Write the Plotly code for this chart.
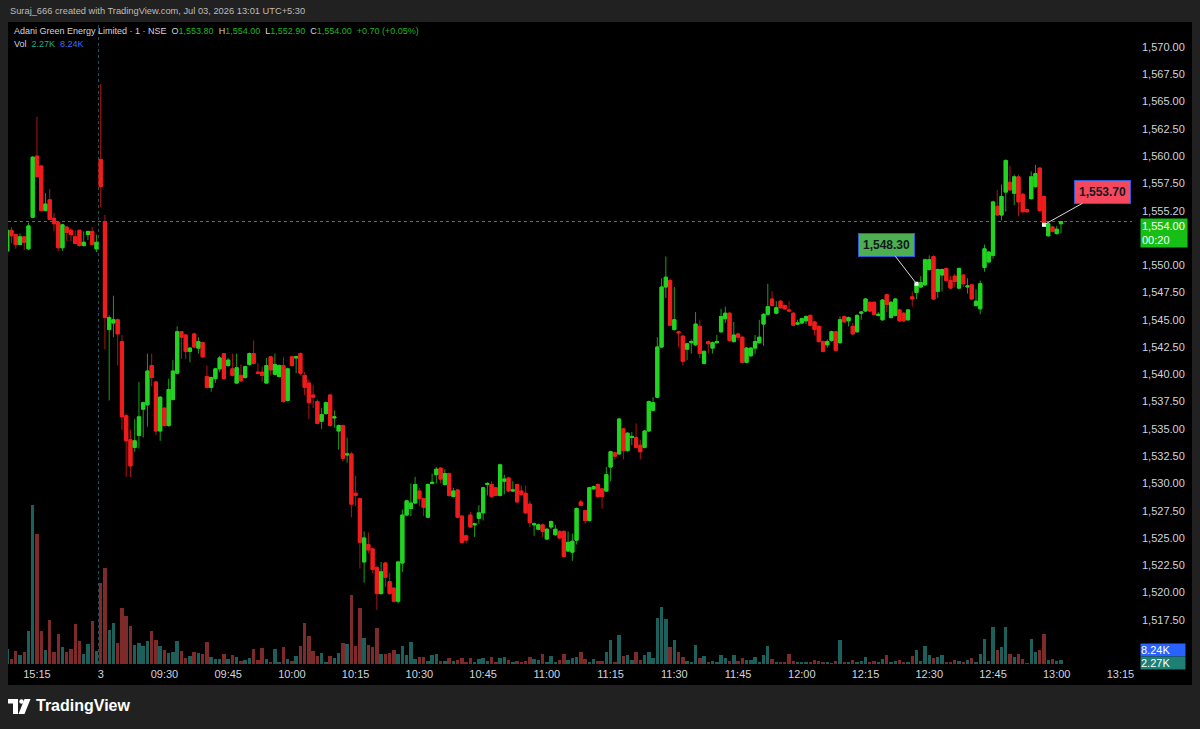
import numpy as np
import plotly.graph_objects as go

# ---------------- data ----------------
prev_times = [f"15:{m:02d}" for m in range(8, 30)]
today_times = [f"{t // 60:02d}:{t % 60:02d}" for t in range(9 * 60 + 15, 13 * 60 + 2)]
times = prev_times + today_times

opens = [
    1551.3, 1553.2, 1552.8, 1551.9, 1552.6, 1551.5, 1554.4, 1560.0, 1559.1, 1555.0,
    1556.0, 1554.3, 1553.9, 1551.6, 1553.5, 1553.2, 1552.6, 1553.2, 1551.8, 1552.8,
    1553.1, 1551.5,
    1559.7, 1554.0, 1544.1, 1544.7, 1545.0, 1543.0, 1536.2, 1534.0, 1533.3, 1534.4,
    1536.8, 1537.2, 1540.8, 1539.3, 1534.8, 1536.9, 1535.3, 1537.7, 1540.1, 1543.9,
    1543.6, 1542.1, 1543.7, 1542.4, 1542.9, 1539.8, 1538.8, 1539.6, 1540.5, 1541.9,
    1540.8, 1540.5, 1539.2, 1539.9, 1539.7, 1540.9, 1541.9, 1540.2, 1540.2, 1539.2,
    1541.6, 1540.0, 1539.8, 1540.8, 1537.6, 1541.6, 1541.5, 1541.9, 1539.9, 1539.2,
    1538.1, 1537.5, 1535.7, 1536.4, 1538.1, 1536.0, 1534.8, 1535.3, 1532.6, 1532.7,
    1529.1, 1528.6, 1522.8, 1524.4, 1524.0, 1522.3, 1519.9, 1522.7, 1521.0, 1520.4,
    1519.2, 1522.7, 1527.1, 1527.7, 1528.2, 1529.3, 1528.6, 1526.9, 1530.0, 1530.8,
    1531.4, 1529.9, 1530.9, 1528.8, 1529.4, 1527.0, 1525.2, 1527.1, 1526.2, 1526.8,
    1527.3, 1529.9, 1529.9, 1529.6, 1528.9, 1530.2, 1530.5, 1529.3, 1529.9, 1529.3,
    1529.1, 1528.1, 1526.2, 1525.8, 1526.2, 1524.9, 1526.0, 1525.3, 1525.6, 1525.6,
    1523.8, 1523.7, 1524.8, 1528.3, 1527.5, 1526.6, 1529.5, 1529.9, 1529.5, 1529.3,
    1531.5, 1532.8, 1532.7, 1535.0, 1533.0, 1534.2, 1534.2, 1533.5, 1533.3, 1534.8,
    1536.7, 1537.9, 1542.5, 1548.0, 1548.6, 1544.1, 1543.9, 1543.5, 1542.3, 1542.9,
    1542.7, 1544.4, 1541.0, 1543.0, 1542.4, 1542.9, 1543.9, 1545.1, 1545.6, 1543.0,
    1543.7, 1543.4, 1541.1, 1541.7, 1542.4, 1542.9, 1544.6, 1545.5, 1546.9, 1545.6,
    1546.7, 1546.3, 1545.9, 1545.6, 1544.6, 1544.7, 1544.9, 1545.4, 1544.8, 1544.4,
    1543.0, 1542.7, 1543.1, 1543.9, 1542.9, 1545.3, 1544.9, 1544.4, 1543.9, 1545.6,
    1545.8, 1546.6, 1546.6, 1545.4, 1545.0, 1547.3, 1545.2, 1545.4, 1545.9, 1545.6,
    1545.0, 1547.1, 1547.5, 1548.0, 1548.2, 1549.6, 1550.8, 1547.6, 1549.1, 1549.7,
    1548.6, 1549.0, 1547.9, 1549.1, 1548.0, 1548.2, 1546.3, 1546.0, 1549.8, 1550.3,
    1550.9, 1555.4, 1554.6, 1556.7, 1557.6, 1556.6, 1558.1, 1556.5, 1555.1, 1556.1,
    1557.2, 1558.9, 1556.3, 1552.7, 1553.5, 1552.9, 1553.8,
]
highs = [
    1553.4, 1553.5, 1552.9, 1552.9, 1552.7, 1553.9, 1560.0, 1563.6, 1559.1, 1556.6,
    1557.0, 1554.8, 1553.9, 1553.8, 1553.5, 1553.4, 1553.2, 1553.2, 1553.1, 1553.1,
    1553.5, 1552.8,
    1566.6, 1554.6, 1545.4, 1547.2, 1545.1, 1543.6, 1536.4, 1534.9, 1535.9, 1539.3,
    1537.5, 1541.9, 1541.9, 1539.4, 1538.0, 1537.0, 1539.6, 1541.3, 1544.4, 1543.9,
    1543.7, 1542.5, 1543.8, 1543.4, 1543.0, 1540.8, 1539.8, 1540.6, 1541.7, 1541.9,
    1541.5, 1541.9, 1541.9, 1540.9, 1540.8, 1542.0, 1543.1, 1541.0, 1540.7, 1541.5,
    1541.7, 1541.9, 1540.9, 1541.6, 1540.6, 1541.7, 1541.7, 1542.0, 1540.2, 1539.5,
    1539.0, 1537.7, 1536.9, 1537.5, 1538.2, 1536.7, 1535.4, 1535.4, 1534.2, 1532.9,
    1530.7, 1528.7, 1525.6, 1525.5, 1524.1, 1522.4, 1522.8, 1522.8, 1521.8, 1520.5,
    1522.9, 1527.6, 1528.5, 1530.0, 1530.6, 1529.6, 1528.7, 1530.0, 1530.9, 1531.5,
    1531.5, 1531.3, 1531.0, 1529.6, 1529.5, 1527.1, 1525.3, 1527.4, 1526.4, 1528.0,
    1529.7, 1530.1, 1530.2, 1529.7, 1531.8, 1530.8, 1530.6, 1530.2, 1530.0, 1529.8,
    1529.8, 1528.4, 1526.4, 1526.3, 1526.3, 1525.9, 1526.6, 1526.2, 1525.7, 1525.7,
    1525.6, 1525.4, 1527.8, 1528.5, 1527.6, 1529.7, 1529.8, 1530.0, 1529.6, 1531.5,
    1533.0, 1532.9, 1536.0, 1535.1, 1534.7, 1534.7, 1535.5, 1534.0, 1534.9, 1537.6,
    1537.9, 1543.4, 1548.8, 1550.8, 1548.8, 1548.0, 1544.0, 1543.6, 1542.9, 1543.2,
    1545.7, 1545.0, 1542.2, 1543.1, 1543.0, 1543.6, 1546.0, 1546.2, 1545.7, 1544.8,
    1543.8, 1543.5, 1542.5, 1542.5, 1543.6, 1545.0, 1545.6, 1548.3, 1547.6, 1546.7,
    1546.8, 1546.4, 1546.7, 1545.7, 1545.0, 1545.2, 1545.4, 1545.5, 1544.9, 1544.5,
    1543.1, 1543.2, 1544.0, 1544.0, 1545.3, 1545.4, 1545.3, 1544.7, 1545.5, 1545.8,
    1547.0, 1546.7, 1546.7, 1545.7, 1546.9, 1547.4, 1546.7, 1547.0, 1546.0, 1545.7,
    1546.0, 1547.6, 1548.4, 1549.0, 1550.6, 1550.9, 1550.9, 1549.7, 1549.7, 1549.8,
    1549.0, 1549.2, 1549.8, 1549.2, 1548.8, 1548.3, 1547.8, 1548.6, 1551.9, 1551.3,
    1555.9, 1556.9, 1557.4, 1559.7, 1559.1, 1558.3, 1558.3, 1556.6, 1555.2, 1558.6,
    1559.2, 1559.0, 1556.4, 1553.9, 1553.6, 1553.6, 1554.0,
]
lows = [
    1551.2, 1552.0, 1551.5, 1551.9, 1551.4, 1551.4, 1554.3, 1558.1, 1555.0, 1555.0,
    1554.2, 1553.1, 1551.3, 1551.3, 1552.2, 1552.2, 1552.0, 1551.7, 1551.7, 1552.3,
    1551.8, 1551.2,
    1555.3, 1542.3, 1537.6, 1543.4, 1540.8, 1534.9, 1530.6, 1530.6, 1532.9, 1533.2,
    1534.2, 1535.2, 1538.9, 1534.4, 1533.9, 1535.2, 1535.2, 1537.6, 1540.0, 1541.4,
    1541.4, 1541.1, 1542.4, 1541.9, 1541.5, 1538.7, 1538.4, 1539.2, 1540.2, 1539.5,
    1540.7, 1539.8, 1539.1, 1539.3, 1539.6, 1540.8, 1540.9, 1540.0, 1539.3, 1539.1,
    1539.9, 1539.9, 1539.7, 1537.4, 1537.5, 1540.7, 1540.1, 1539.9, 1538.1, 1535.9,
    1536.9, 1535.4, 1535.0, 1536.3, 1535.2, 1535.1, 1533.1, 1532.0, 1531.9, 1526.9,
    1527.9, 1522.2, 1520.9, 1523.6, 1521.8, 1518.4, 1519.8, 1520.5, 1519.8, 1519.1,
    1519.0, 1521.9, 1527.0, 1527.0, 1528.1, 1527.9, 1527.0, 1526.8, 1529.9, 1530.0,
    1530.0, 1529.8, 1528.8, 1528.7, 1526.8, 1524.5, 1524.5, 1525.9, 1525.1, 1526.3,
    1526.6, 1528.9, 1528.7, 1528.8, 1528.8, 1529.0, 1529.2, 1529.2, 1528.2, 1528.9,
    1527.2, 1526.0, 1525.2, 1525.7, 1525.1, 1524.8, 1525.8, 1525.2, 1524.9, 1523.2,
    1523.7, 1522.9, 1524.4, 1527.9, 1526.3, 1526.5, 1529.4, 1528.7, 1527.7, 1529.2,
    1530.2, 1532.2, 1532.6, 1532.2, 1532.9, 1533.5, 1533.2, 1532.2, 1533.2, 1534.7,
    1536.6, 1537.8, 1542.4, 1547.0, 1544.4, 1544.0, 1542.5, 1540.8, 1541.3, 1541.9,
    1542.6, 1541.5, 1540.9, 1541.9, 1541.9, 1542.8, 1543.8, 1544.7, 1543.0, 1542.9,
    1543.1, 1541.0, 1541.0, 1541.6, 1541.9, 1542.8, 1542.6, 1545.4, 1546.2, 1545.5,
    1546.0, 1545.9, 1545.7, 1544.4, 1544.5, 1544.6, 1544.6, 1544.4, 1543.6, 1542.9,
    1542.0, 1542.4, 1543.0, 1542.1, 1542.8, 1544.7, 1544.4, 1543.6, 1543.8, 1545.0,
    1545.7, 1545.7, 1545.4, 1545.3, 1544.9, 1545.7, 1545.1, 1545.3, 1544.8, 1544.8,
    1544.9, 1546.2, 1546.9, 1547.9, 1548.1, 1549.5, 1546.8, 1547.0, 1547.6, 1548.5,
    1547.8, 1548.0, 1547.8, 1548.0, 1547.4, 1546.8, 1546.2, 1545.5, 1549.4, 1550.2,
    1550.6, 1554.5, 1554.1, 1554.9, 1556.8, 1555.5, 1554.5, 1554.8, 1554.8, 1556.0,
    1557.1, 1554.9, 1553.5, 1552.6, 1553.0, 1552.8, 1552.9,
]
closes = [
    1553.2, 1552.7, 1551.9, 1552.6, 1552.1, 1553.6, 1559.9, 1558.1, 1555.0, 1555.6,
    1554.2, 1553.8, 1551.6, 1553.7, 1553.0, 1552.8, 1552.0, 1551.8, 1552.1, 1553.1,
    1551.9, 1552.1,
    1557.2, 1545.2, 1545.2, 1545.0, 1543.7, 1536.1, 1533.9, 1531.6, 1533.9, 1536.1,
    1537.4, 1540.3, 1539.7, 1534.8, 1537.9, 1535.3, 1538.6, 1540.3, 1543.9, 1543.4,
    1542.1, 1542.4, 1542.5, 1543.0, 1541.6, 1538.8, 1539.7, 1540.5, 1541.5, 1539.6,
    1541.3, 1539.9, 1540.6, 1539.4, 1540.7, 1541.9, 1541.0, 1540.1, 1539.9, 1540.8,
    1540.4, 1540.9, 1540.8, 1537.5, 1540.5, 1540.8, 1541.6, 1540.1, 1538.8, 1537.4,
    1537.9, 1535.5, 1536.3, 1537.4, 1535.3, 1536.1, 1535.3, 1532.3, 1532.7, 1528.1,
    1528.9, 1524.6, 1525.0, 1523.9, 1522.1, 1519.9, 1521.9, 1521.4, 1519.9, 1519.2,
    1522.8, 1527.1, 1528.4, 1528.2, 1529.9, 1528.6, 1527.8, 1529.9, 1530.1, 1531.3,
    1530.4, 1530.9, 1528.9, 1529.3, 1526.9, 1524.6, 1524.8, 1526.0, 1526.3, 1527.3,
    1529.6, 1530.0, 1528.8, 1528.9, 1531.7, 1530.4, 1529.3, 1529.4, 1528.3, 1529.0,
    1527.3, 1526.4, 1526.3, 1526.2, 1525.6, 1525.8, 1526.5, 1525.8, 1525.0, 1523.3,
    1524.6, 1524.7, 1527.7, 1528.0, 1526.6, 1529.6, 1529.7, 1528.8, 1528.8, 1530.8,
    1532.9, 1532.5, 1535.9, 1533.0, 1534.6, 1534.3, 1533.3, 1532.9, 1534.8, 1537.5,
    1537.4, 1542.5, 1548.0, 1548.9, 1544.5, 1545.0, 1543.8, 1541.2, 1542.8, 1543.0,
    1544.6, 1541.9, 1542.1, 1542.8, 1542.9, 1543.0, 1545.3, 1545.6, 1543.1, 1543.6,
    1543.4, 1541.1, 1542.4, 1542.4, 1543.0, 1543.4, 1545.5, 1546.2, 1546.3, 1546.1,
    1546.1, 1546.0, 1545.8, 1544.5, 1544.7, 1545.1, 1545.3, 1544.5, 1544.1, 1543.0,
    1542.1, 1543.0, 1543.9, 1542.2, 1545.0, 1544.8, 1545.2, 1543.7, 1545.4, 1545.7,
    1546.9, 1545.8, 1545.5, 1545.5, 1546.8, 1546.4, 1546.6, 1546.9, 1544.9, 1544.9,
    1545.9, 1546.9, 1548.3, 1548.4, 1550.5, 1550.5, 1546.9, 1549.6, 1549.6, 1548.6,
    1547.9, 1548.5, 1549.7, 1548.3, 1548.1, 1546.9, 1546.7, 1548.3, 1551.5, 1551.2,
    1555.8, 1554.6, 1556.3, 1559.6, 1556.9, 1558.1, 1555.8, 1554.9, 1554.9, 1558.1,
    1558.4, 1555.0, 1553.7, 1553.8, 1553.1, 1553.3, 1554.0,
]
volumes_k = [
    9.0, 3.3, 7.6, 5.4, 7.2, 19.8, 95.4, 78.0, 19.6, 8.2,
    26.4, 7.2, 18.0, 10.0, 7.2, 9.0, 24.0, 13.8, 6.0, 12.0,
    25.6, 7.6,
    48.6, 57.6, 20.4, 24.6, 12.6, 33.6, 28.8, 22.8, 11.4, 12.6,
    10.8, 13.8, 19.8, 14.4, 10.8, 8.4, 6.6, 7.2, 13.8, 7.8,
    3.6, 4.8, 7.2, 6.6, 6.0, 13.2, 4.2, 2.8, 3.2, 5.8,
    2.8, 5.4, 4.2, 1.8, 2.4, 3.4, 8.8, 2.4, 9.4, 3.2,
    1.4, 8.8, 1.4, 10.2, 2.8, 1.8, 4.6, 10.6, 24.6, 16.8,
    7.8, 4.8, 6.4, 1.2, 4.6, 3.6, 6.6, 12.4, 12.0, 41.2,
    10.8, 33.6, 15.6, 11.4, 10.2, 21.6, 5.8, 5.8, 6.4, 8.4,
    5.8, 10.8, 5.2, 13.2, 3.2, 4.0, 4.2, 1.8, 5.2, 6.2,
    1.8, 1.8, 3.4, 1.8, 2.2, 3.4, 1.4, 3.4, 1.2, 2.8,
    3.8, 1.6, 4.2, 1.2, 3.4, 4.2, 2.4, 1.4, 2.0, 1.2,
    1.8, 4.2, 3.2, 2.4, 5.8, 1.4, 4.8, 1.2, 2.4, 5.8,
    2.4, 3.8, 4.2, 7.2, 3.2, 1.4, 2.8, 1.8, 1.8, 7.2,
    14.4, 1.2, 17.2, 4.8, 5.4, 2.4, 7.4, 2.4, 5.2, 7.2,
    3.8, 27.6, 34.2, 27.0, 10.2, 14.2, 7.2, 4.2, 1.8, 1.2,
    11.2, 3.4, 4.6, 1.4, 1.8, 1.2, 5.2, 3.4, 1.8, 5.4,
    1.6, 3.6, 2.2, 2.2, 4.0, 1.2, 5.6, 10.6, 3.0, 1.0,
    1.2, 0.8, 6.2, 1.6, 1.0, 1.0, 1.0, 1.0, 2.6, 1.6,
    1.2, 1.0, 0.6, 1.6, 14.2, 0.8, 1.4, 2.2, 1.4, 1.8,
    4.2, 1.4, 1.8, 0.8, 3.2, 5.2, 1.4, 1.8, 2.4, 1.2,
    0.8, 4.8, 8.2, 1.8, 10.8, 5.4, 3.8, 4.2, 5.4, 1.4,
    1.2, 2.2, 1.8, 1.2, 2.4, 3.4, 1.2, 5.8, 14.8, 1.8,
    22.2, 8.4, 10.4, 22.2, 5.8, 4.4, 5.8, 2.8, 0.6, 14.8,
    7.2, 8.4, 18.2, 2.4, 3.2, 1.8, 2.27,
]
volume_ma_k = 8.24
tick_times = ["15:15", "09:15", "09:30", "09:45", "10:00", "10:15", "10:30", "10:45",
              "11:00", "11:15", "11:30", "11:45", "12:00", "12:15", "12:30", "12:45",
              "13:00", "13:15"]
tick_labels = ["15:15", "3", "09:30", "09:45", "10:00", "10:15", "10:30", "10:45",
               "11:00", "11:15", "11:30", "11:45", "12:00", "12:15", "12:30", "12:45",
               "13:00", "13:15"]
# price-scale ticks that are visible (1,552.50 and 1,515.00 sit under the label boxes)
price_ticks = [1517.5 + 2.5 * i for i in range(22) if 1517.5 + 2.5 * i != 1552.5]
price_tick_labels = ["1,555.20" if v == 1555.0 else f"{v:,.2f}" for v in price_ticks]
note_times = ["12:27", "12:57"]   # price notes (label = close of that bar)

# ---------------- geometry ----------------
W, H = 1200, 729
L, R, T, B = 8, 1132, 22, 664
SP = 4.249          # px per bar
X_SESSION_PX = 100.7
PRICE_REF, PRICE_REF_Y, PX_PER_PT = 1570.0, 47.0, 10.91
VOL_PER_PX = 0.6


def px(x):
    return (x - L) / (R - L)


def py(y):
    return (B - y) / (B - T)


n = len(times)
x = np.arange(n)
i_session = times.index("09:15")
last_i = n - 1


def tpos(t):
    if t in times[i_session:]:
        return i_session + times[i_session:].index(t)
    if t in times:
        return times.index(t)
    h, m = map(int, t.split(":"))
    lh, lm = map(int, times[-1].split(":"))
    return last_i + (h * 60 + m) - (lh * 60 + lm)


tickvals = [tpos(t) for t in tick_times]
xr0 = i_session - (X_SESSION_PX - L) / SP
xr1 = xr0 + (R - L) / SP
yr1 = PRICE_REF + (PRICE_REF_Y - T) / PX_PER_PT
yr0 = PRICE_REF - (B - PRICE_REF_Y) / PX_PER_PT

o = np.array(opens); h_ = np.array(highs); l_ = np.array(lows); c = np.array(closes)
up = c >= o

G, Rd = "#22d422", "#f01c1c"
GW, RW = "#16a016", "#b01414"
VG, VR = "#1d5f5b", "#7c2a2a"

fig = go.Figure()
fig.add_trace(go.Bar(x=x, y=volumes_k, yaxis="y2", width=0.8,
                     marker=dict(color=[VG if u else VR for u in up], line=dict(width=0)),
                     hoverinfo="skip", showlegend=False))
fig.add_trace(go.Candlestick(x=x, open=o, high=h_, low=l_, close=c, whiskerwidth=0,
                             increasing=dict(line=dict(color=GW, width=1), fillcolor=GW),
                             decreasing=dict(line=dict(color=RW, width=1), fillcolor=RW),
                             hoverinfo="skip", showlegend=False))
fig.add_trace(go.Candlestick(x=x, open=o, high=np.maximum(o, c), low=np.minimum(o, c), close=c,
                             whiskerwidth=0,
                             increasing=dict(line=dict(color=G, width=1), fillcolor=G),
                             decreasing=dict(line=dict(color=Rd, width=1), fillcolor=Rd),
                             hoverinfo="skip", showlegend=False))
note_idx = [tpos(t) for t in note_times]
fig.add_trace(go.Scatter(x=note_idx, y=[closes[i] for i in note_idx], mode="markers",
                         marker=dict(color="#ffffff", size=4, symbol="square"),
                         hoverinfo="skip", showlegend=False))

FRAME = "#212121"
shapes = [
    dict(type="rect", xref="paper", yref="paper", x0=px(0), x1=px(W), y0=py(0), y1=py(T),
         fillcolor=FRAME, line=dict(width=0), layer="above"),
    dict(type="rect", xref="paper", yref="paper", x0=px(0), x1=px(L), y0=py(T), y1=py(H),
         fillcolor=FRAME, line=dict(width=0), layer="above"),
    dict(type="rect", xref="paper", yref="paper", x0=px(1192), x1=px(W), y0=py(T), y1=py(H),
         fillcolor=FRAME, line=dict(width=0), layer="above"),
    dict(type="rect", xref="paper", yref="paper", x0=px(0), x1=px(W), y0=py(685), y1=py(H),
         fillcolor=FRAME, line=dict(width=0), layer="above"),
    dict(type="line", xref="x", yref="paper", x0=i_session - 0.5, x1=i_session - 0.5, y0=0, y1=1,
         line=dict(color="#1f5a66", width=1, dash="dot"), layer="below"),
    dict(type="line", xref="paper", yref="y", x0=0, x1=1, y0=closes[-1], y1=closes[-1],
         line=dict(color="#1fa01f", width=1, dash="dot"), layer="below"),
    # TradingView logo
    dict(type="rect", xref="paper", yref="paper", x0=px(8), x1=px(18), y0=py(703.5), y1=py(699),
         fillcolor="#ffffff", line=dict(width=0), layer="above"),
    dict(type="rect", xref="paper", yref="paper", x0=px(13), x1=px(18), y0=py(714), y1=py(699),
         fillcolor="#ffffff", line=dict(width=0), layer="above"),
    dict(type="circle", xref="paper", yref="paper", x0=px(19.3), x1=px(23.7), y0=py(703.7), y1=py(699.3),
         fillcolor="#ffffff", line=dict(width=0), layer="above"),
    dict(type="path", xref="paper", yref="paper",
         path=f"M {px(24.5)},{py(699)} L {px(30.5)},{py(699)} L {px(24.5)},{py(714)} L {px(18.5)},{py(714)} Z",
         fillcolor="#ffffff", line=dict(width=0), layer="above"),
]

LT = "#d1d4dc"
NUM_G = "#1fb51f"
sans = "Liberation Sans, Arial, sans-serif"
chg = closes[-1] - closes[-2]
pct = chg / closes[-2] * 100


def sp(t, col):
    return f"<span style='color:{col}'>{t}</span>"


ohlc_txt = ("Adani Green Energy Limited · 1 · NSE  "
            + "O" + sp(f"{opens[-1]:,.2f}", NUM_G) + "  H" + sp(f"{highs[-1]:,.2f}", NUM_G)
            + "  L" + sp(f"{lows[-1]:,.2f}", NUM_G) + "  C" + sp(f"{closes[-1]:,.2f}", NUM_G)
            + "  " + sp(f"{chg:+.2f} ({pct:+.2f}%)", NUM_G))
vol_txt = "Vol  " + sp(f"{volumes_k[-1]:.2f}K", "#22ab94") + "  " + sp(f"{volume_ma_k:.2f}K", "#3d6cff")

annotations = [
    dict(xref="paper", yref="paper", x=px(8), y=py(11), xanchor="left", yanchor="middle",
         text="Suraj_666 created with TradingView.com, Jul 03, 2026 13:01 UTC+5:30",
         showarrow=False, font=dict(family=sans, size=9.3, color="#bdbdbd")),
    dict(xref="paper", yref="paper", x=px(12), y=py(31), xanchor="left", yanchor="middle",
         text=ohlc_txt, showarrow=False, font=dict(family=sans, size=9, color=LT)),
    dict(xref="paper", yref="paper", x=px(12), y=py(44), xanchor="left", yanchor="middle",
         text=vol_txt, showarrow=False, font=dict(family=sans, size=9, color=LT)),
    dict(xref="paper", yref="y", x=px(1140), y=closes[-1], xanchor="left", yanchor="top", yshift=4,
         text=f"{closes[-1]:,.2f}<br>00:20", align="left", showarrow=False, width=44,
         bgcolor="#16bf16", borderpad=1, font=dict(family=sans, size=11, color="#ffffff")),
    dict(xref="paper", yref="y2", x=px(1140), y=volume_ma_k, xanchor="left", yanchor="middle",
         text=f"{volume_ma_k:.2f}K", align="left", showarrow=False, width=44,
         bgcolor="#2962ff", borderpad=0, font=dict(family=sans, size=11, color="#ffffff")),
    dict(xref="paper", yref="y2", x=px(1140), y=volumes_k[-1], xanchor="left", yanchor="middle",
         yshift=-3, text=f"{volumes_k[-1]:.2f}K", align="left", showarrow=False, width=44,
         bgcolor="#1e7f72", borderpad=0, font=dict(family=sans, size=11, color="#ffffff")),
    dict(xref="x", yref="y", x=note_idx[1], y=closes[note_idx[1]], ax=59, ay=-33,
         text=f"<b>{closes[note_idx[1]]:,.2f}</b>", showarrow=True, arrowhead=0, arrowwidth=1,
         arrowcolor="#d8d8d8", bgcolor="#f7475c", bordercolor="#2d5bd7", borderwidth=1, borderpad=4,
         font=dict(family=sans, size=12, color="#131722")),
    dict(xref="x", yref="y", x=note_idx[0], y=closes[note_idx[0]], ax=-30, ay=-39,
         text=f"<b>{closes[note_idx[0]]:,.2f}</b>", showarrow=True, arrowhead=0, arrowwidth=1,
         arrowcolor="#d8d8d8", bgcolor="#4caf50", bordercolor="#2d5bd7", borderwidth=1, borderpad=4,
         font=dict(family=sans, size=12, color="#131722")),
    dict(xref="paper", yref="paper", x=px(34), y=py(706), xanchor="left", yanchor="middle",
         text="<b>TradingView</b>", showarrow=False,
         font=dict(family=sans, size=16, color="#ffffff")),
]

fig.update_layout(
    width=W, height=H, autosize=False,
    margin=dict(l=L, r=W - R, t=T, b=H - B, pad=0),
    paper_bgcolor="#000000", plot_bgcolor="#000000",
    showlegend=False, bargap=0, boxgap=0.25, boxgroupgap=0,
    xaxis=dict(range=[xr0, xr1], rangeslider=dict(visible=False), showgrid=False, zeroline=False,
               tickmode="array", tickvals=tickvals, ticktext=tick_labels, ticks="",
               tickfont=dict(family=sans, size=11, color=LT), ticklabelstandoff=2,
               showline=False, fixedrange=True),
    yaxis=dict(range=[yr0, yr1], side="right", showgrid=False, zeroline=False,
               tickmode="array", tickvals=price_ticks, ticktext=price_tick_labels, ticks="",
               tickfont=dict(family=sans, size=11, color=LT), ticklabelstandoff=9,
               showline=False, fixedrange=True),
    yaxis2=dict(range=[0, (B - T) * VOL_PER_PX], overlaying="y", visible=False, fixedrange=True),
    shapes=shapes, annotations=annotations,
)

fig.write_html("out.html", config={"displayModeBar": False})
